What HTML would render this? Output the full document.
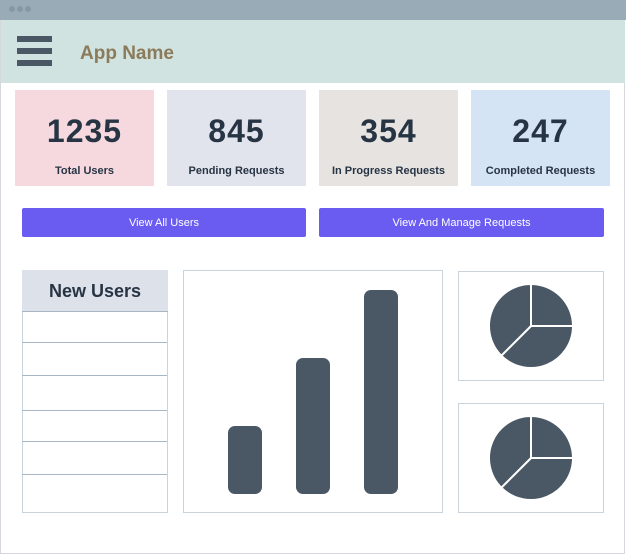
<!DOCTYPE html>
<html><head><meta charset="utf-8"><style>
*{margin:0;padding:0;box-sizing:border-box}
body{width:626px;height:555px;background:#fff;font-family:"Liberation Sans",sans-serif;position:relative;overflow:hidden}
.abs{position:absolute}
.card{position:absolute;top:90px;width:139px;height:96px;text-align:center;color:#273444}
.card .num{position:absolute;top:23px;width:100%;font-size:32px;font-weight:bold;letter-spacing:1px}
.btn{position:absolute;top:208px;height:29px;background:#6a5cf0;color:#fff;font-size:11px;text-align:center;line-height:30px;border-radius:2px}
.row{position:absolute;left:22px;width:145px;border-bottom:1px solid #a9b6c4}
.lbl{position:absolute;top:165px;width:139px;text-align:center;font-size:11px;font-weight:bold;color:#273444}
</style></head><body>
<div class="abs" style="left:0;top:0;width:625px;height:554px;border:1px solid #d4d8dc"></div>
<div class="abs" style="left:0;top:0;width:626px;height:20px;background:#9aabb8"></div>
<div class="abs" style="left:9px;top:6px;font-size:0">
<span style="display:inline-block;width:6px;height:6px;border-radius:3px;background:#8797a5;margin-right:2px"></span><span style="display:inline-block;width:6px;height:6px;border-radius:3px;background:#8797a5;margin-right:2px"></span><span style="display:inline-block;width:6px;height:6px;border-radius:3px;background:#8797a5"></span></div>
<div class="abs" style="left:1px;top:20px;width:624px;height:63px;background:#d1e3e1"></div>
<div class="abs" style="left:17px;top:36px;width:35px;height:31px">
<div style="position:absolute;top:0;width:35px;height:6px;background:#4a5866"></div>
<div style="position:absolute;top:12px;width:35px;height:6px;background:#4a5866"></div>
<div style="position:absolute;top:24px;width:35px;height:6px;background:#4a5866"></div></div>
<div class="abs" style="left:80px;top:43px;font-size:19px;font-weight:bold;color:#8b7b5a">App Name</div>

<div class="card" style="left:15px;background:#f5d9df"><div class="num">1235</div></div>
<div class="card" style="left:167px;background:#e1e4ed"><div class="num">845</div></div>
<div class="card" style="left:319px;background:#e6e3e0"><div class="num">354</div></div>
<div class="card" style="left:471px;background:#d5e4f4"><div class="num">247</div></div>
<div class="lbl" style="left:15px">Total Users</div>
<div class="lbl" style="left:167px">Pending Requests</div>
<div class="lbl" style="left:319px">In Progress Requests</div>
<div class="lbl" style="left:471px">Completed Requests</div>

<div class="btn" style="left:22px;width:284px">View All Users</div>
<div class="btn" style="left:319px;width:285px">View And Manage Requests</div>

<div class="abs" style="left:22px;top:270px;width:146px;height:243px;border:1px solid #c9d3dc"></div>
<div class="abs" style="left:22px;top:270px;width:146px;height:42px;background:#dde1ea;border-bottom:1px solid #a9b6c4;text-align:center;font-size:18px;font-weight:bold;color:#273444;line-height:43px">New Users</div>
<div class="row" style="top:312px;height:31px"></div>
<div class="row" style="top:343px;height:33px"></div>
<div class="row" style="top:376px;height:35px"></div>
<div class="row" style="top:411px;height:31px"></div>
<div class="row" style="top:442px;height:33px"></div>

<div class="abs" style="left:183px;top:270px;width:260px;height:243px;border:1px solid #c9d3dc"></div>
<div class="abs" style="left:458px;top:271px;width:146px;height:110px;border:1px solid #c9d3dc"></div>
<div class="abs" style="left:458px;top:403px;width:146px;height:110px;border:1px solid #c9d3dc"></div>

<svg class="abs" id="charts" style="left:0;top:0" width="626" height="555"></svg>
<script>
const categories=["A","B","C"];
const barValues=[1,2,3];
const pieValues=[25,37.5,37.5];
const pie2Values=[25,37.5,37.5];
const NS="http://www.w3.org/2000/svg";
const svg=document.getElementById('charts');
const base=494,unit=68;
const y=v=>base-v*unit;
const x=i=>228+i*68;
barValues.forEach((v,i)=>{
 const r=document.createElementNS(NS,'rect');
 
 
 r.setAttribute('x',x(i));r.setAttribute('y',y(v));
 r.setAttribute('width',34);r.setAttribute('height',base-y(v));
 r.setAttribute('rx',7);r.setAttribute('fill','#4a5866');
 svg.appendChild(r);
});
function pie(vals,cx,cy,r,name){
 const tot=vals.reduce((a,b)=>a+b,0);let a=0;
 vals.forEach((v,i)=>{
  const a0=a/tot*2*Math.PI;a+=v;const a1=a/tot*2*Math.PI;
  const p=(t)=>[cx+r*Math.sin(t),cy-r*Math.cos(t)];
  const [x0,y0]=p(a0),[x1,y1]=p(a1);
  const path=document.createElementNS(NS,'path');
  
  
  path.setAttribute('d',`M${cx},${cy}L${x0},${y0}A${r},${r} 0 ${a1-a0>Math.PI?1:0} 1 ${x1},${y1}Z`);
  path.setAttribute('fill','#4a5866');path.setAttribute('stroke','#fff');path.setAttribute('stroke-width','2');
  svg.appendChild(path);
 });
}
pie(pieValues,531,326,42,'pie1');
pie(pie2Values,531,458,42,'pie2');
</script>
</body></html>
